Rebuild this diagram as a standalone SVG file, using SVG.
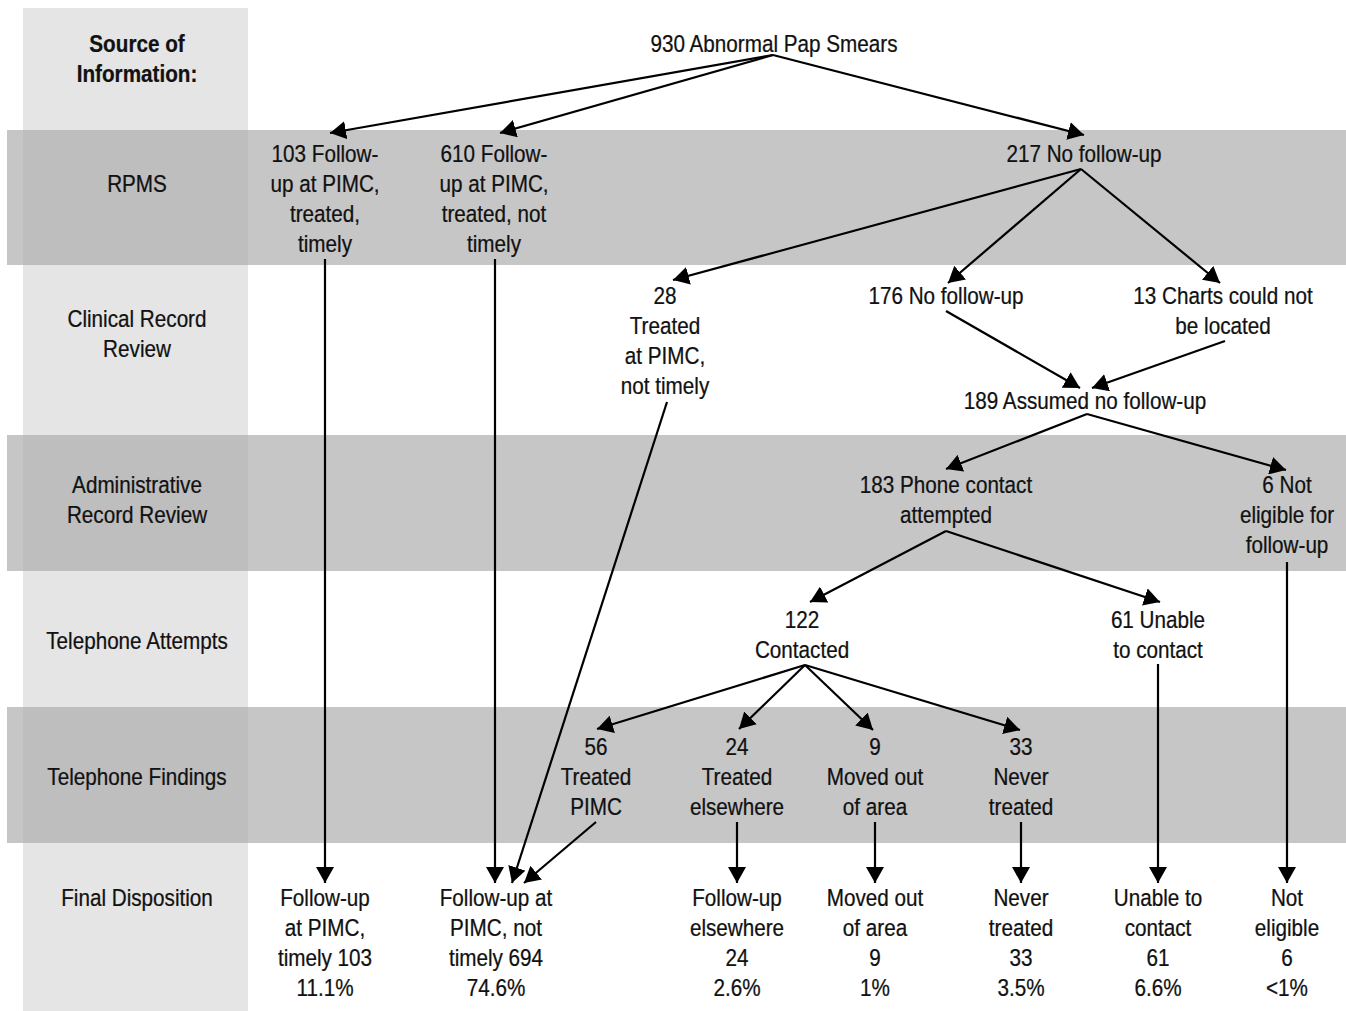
<svg xmlns="http://www.w3.org/2000/svg" width="1346" height="1011" viewBox="0 0 1346 1011">
<defs>
<style>
.t{font-family:"Liberation Sans",Arial,sans-serif;font-size:23.5px;text-anchor:middle;fill:#111;stroke:#111;stroke-width:0.25}
.b{font-weight:bold}
.c{fill:none;stroke:#000;stroke-width:2.2;marker-end:url(#ah)}
</style>
<marker id="ah" viewBox="0 0 16 18" refX="16" refY="9" markerWidth="16" markerHeight="18" markerUnits="userSpaceOnUse" orient="auto">
<path d="M0,0 L16,9 L0,18 z" fill="#000"/>
</marker>
</defs>
<rect width="1346" height="1011" fill="#fff"/>
<g id="background">
<rect x="23" y="8" width="225" height="1003" fill="#e5e5e5"/>
<rect x="7" y="130" width="1339" height="135" fill="#c6c6c6"/>
<rect x="7" y="435" width="1339" height="136" fill="#c6c6c6"/>
<rect x="7" y="707" width="1339" height="136" fill="#c6c6c6"/>
<rect x="23" y="130" width="225" height="135" fill="#bebebe"/>
<rect x="23" y="435" width="225" height="136" fill="#bebebe"/>
<rect x="23" y="707" width="225" height="136" fill="#bebebe"/>
</g>
<g id="row-labels">
<g id="lbl-source" transform="translate(137 0) scale(0.88 1)"><text class="t b"><tspan x="0" y="52">Source of</tspan><tspan x="0" y="82">Information:</tspan></text></g>
<g id="lbl-rpms" transform="translate(137 0) scale(0.88 1)"><text class="t"><tspan x="0" y="192">RPMS</tspan></text></g>
<g id="lbl-clinical" transform="translate(137 0) scale(0.88 1)"><text class="t"><tspan x="0" y="327">Clinical Record</tspan><tspan x="0" y="357">Review</tspan></text></g>
<g id="lbl-admin" transform="translate(137 0) scale(0.88 1)"><text class="t"><tspan x="0" y="493">Administrative</tspan><tspan x="0" y="523">Record Review</tspan></text></g>
<g id="lbl-tattempts" transform="translate(137 0) scale(0.88 1)"><text class="t"><tspan x="0" y="649">Telephone Attempts</tspan></text></g>
<g id="lbl-tfindings" transform="translate(137 0) scale(0.88 1)"><text class="t"><tspan x="0" y="785">Telephone Findings</tspan></text></g>
<g id="lbl-final" transform="translate(137 0) scale(0.88 1)"><text class="t"><tspan x="0" y="906">Final Disposition</tspan></text></g>
</g>
<g id="connectors">
<path class="c" d="M773,55 L330,133"/>
<path class="c" d="M773,55 L500,133"/>
<path class="c" d="M773,55 L1084,135"/>
<path class="c" d="M1081,169 L673,280"/>
<path class="c" d="M1081,169 L948,283"/>
<path class="c" d="M1081,169 L1220,283"/>
<path class="c" d="M946,311 L1080,388"/>
<path class="c" d="M1225,341 L1092,388"/>
<path class="c" d="M1087,414 L946,469"/>
<path class="c" d="M1087,414 L1286,470"/>
<path class="c" d="M946,531 L810,602"/>
<path class="c" d="M946,531 L1160,602"/>
<path class="c" d="M805,665 L597,729"/>
<path class="c" d="M805,665 L739,729"/>
<path class="c" d="M805,665 L873,730"/>
<path class="c" d="M805,665 L1020,730"/>
<path class="c" d="M325,259 L325,883"/>
<path class="c" d="M495,259 L495,883"/>
<path class="c" d="M667,402 L512,883"/>
<path class="c" d="M596,822 L524,883"/>
<path class="c" d="M737,822 L737,883"/>
<path class="c" d="M875,822 L875,883"/>
<path class="c" d="M1021,822 L1021,883"/>
<path class="c" d="M1158,664 L1158,883"/>
<path class="c" d="M1287,562 L1287,883"/>
</g>
<g id="n-root" transform="translate(774 0) scale(0.88 1)"><text class="t"><tspan x="0" y="52">930 Abnormal Pap Smears</tspan></text></g>
<g id="n-103" transform="translate(325 0) scale(0.88 1)"><text class="t"><tspan x="0" y="162">103 Follow-</tspan><tspan x="0" y="192">up at PIMC,</tspan><tspan x="0" y="222">treated,</tspan><tspan x="0" y="252">timely</tspan></text></g>
<g id="n-610" transform="translate(494 0) scale(0.88 1)"><text class="t"><tspan x="0" y="162">610 Follow-</tspan><tspan x="0" y="192">up at PIMC,</tspan><tspan x="0" y="222">treated, not</tspan><tspan x="0" y="252">timely</tspan></text></g>
<g id="n-217" transform="translate(1084 0) scale(0.88 1)"><text class="t"><tspan x="0" y="162">217 No follow-up</tspan></text></g>
<g id="n-28" transform="translate(665 0) scale(0.88 1)"><text class="t"><tspan x="0" y="304">28</tspan><tspan x="0" y="334">Treated</tspan><tspan x="0" y="364">at PIMC,</tspan><tspan x="0" y="394">not timely</tspan></text></g>
<g id="n-176" transform="translate(946 0) scale(0.88 1)"><text class="t"><tspan x="0" y="304">176 No follow-up</tspan></text></g>
<g id="n-13" transform="translate(1223 0) scale(0.88 1)"><text class="t"><tspan x="0" y="304">13 Charts could not</tspan><tspan x="0" y="334">be located</tspan></text></g>
<g id="n-189" transform="translate(1085 0) scale(0.88 1)"><text class="t"><tspan x="0" y="409">189 Assumed no follow-up</tspan></text></g>
<g id="n-183" transform="translate(946 0) scale(0.88 1)"><text class="t"><tspan x="0" y="493">183 Phone contact</tspan><tspan x="0" y="523">attempted</tspan></text></g>
<g id="n-6" transform="translate(1287 0) scale(0.88 1)"><text class="t"><tspan x="0" y="493">6 Not</tspan><tspan x="0" y="523">eligible for</tspan><tspan x="0" y="553">follow-up</tspan></text></g>
<g id="n-122" transform="translate(802 0) scale(0.88 1)"><text class="t"><tspan x="0" y="628">122</tspan><tspan x="0" y="658">Contacted</tspan></text></g>
<g id="n-61" transform="translate(1158 0) scale(0.88 1)"><text class="t"><tspan x="0" y="628">61 Unable</tspan><tspan x="0" y="658">to contact</tspan></text></g>
<g id="n-56" transform="translate(596 0) scale(0.88 1)"><text class="t"><tspan x="0" y="755">56</tspan><tspan x="0" y="785">Treated</tspan><tspan x="0" y="815">PIMC</tspan></text></g>
<g id="n-24" transform="translate(737 0) scale(0.88 1)"><text class="t"><tspan x="0" y="755">24</tspan><tspan x="0" y="785">Treated</tspan><tspan x="0" y="815">elsewhere</tspan></text></g>
<g id="n-9" transform="translate(875 0) scale(0.88 1)"><text class="t"><tspan x="0" y="755">9</tspan><tspan x="0" y="785">Moved out</tspan><tspan x="0" y="815">of area</tspan></text></g>
<g id="n-33" transform="translate(1021 0) scale(0.88 1)"><text class="t"><tspan x="0" y="755">33</tspan><tspan x="0" y="785">Never</tspan><tspan x="0" y="815">treated</tspan></text></g>
<g id="f-timely" transform="translate(325 0) scale(0.88 1)"><text class="t"><tspan x="0" y="906">Follow-up</tspan><tspan x="0" y="936">at PIMC,</tspan><tspan x="0" y="966">timely 103</tspan><tspan x="0" y="996">11.1%</tspan></text></g>
<g id="f-nottimely" transform="translate(496 0) scale(0.88 1)"><text class="t"><tspan x="0" y="906">Follow-up at</tspan><tspan x="0" y="936">PIMC, not</tspan><tspan x="0" y="966">timely 694</tspan><tspan x="0" y="996">74.6%</tspan></text></g>
<g id="f-elsewhere" transform="translate(737 0) scale(0.88 1)"><text class="t"><tspan x="0" y="906">Follow-up</tspan><tspan x="0" y="936">elsewhere</tspan><tspan x="0" y="966">24</tspan><tspan x="0" y="996">2.6%</tspan></text></g>
<g id="f-moved" transform="translate(875 0) scale(0.88 1)"><text class="t"><tspan x="0" y="906">Moved out</tspan><tspan x="0" y="936">of area</tspan><tspan x="0" y="966">9</tspan><tspan x="0" y="996">1%</tspan></text></g>
<g id="f-never" transform="translate(1021 0) scale(0.88 1)"><text class="t"><tspan x="0" y="906">Never</tspan><tspan x="0" y="936">treated</tspan><tspan x="0" y="966">33</tspan><tspan x="0" y="996">3.5%</tspan></text></g>
<g id="f-unable" transform="translate(1158 0) scale(0.88 1)"><text class="t"><tspan x="0" y="906">Unable to</tspan><tspan x="0" y="936">contact</tspan><tspan x="0" y="966">61</tspan><tspan x="0" y="996">6.6%</tspan></text></g>
<g id="f-noteligible" transform="translate(1287 0) scale(0.88 1)"><text class="t"><tspan x="0" y="906">Not</tspan><tspan x="0" y="936">eligible</tspan><tspan x="0" y="966">6</tspan><tspan x="0" y="996">&lt;1%</tspan></text></g>
</svg>
